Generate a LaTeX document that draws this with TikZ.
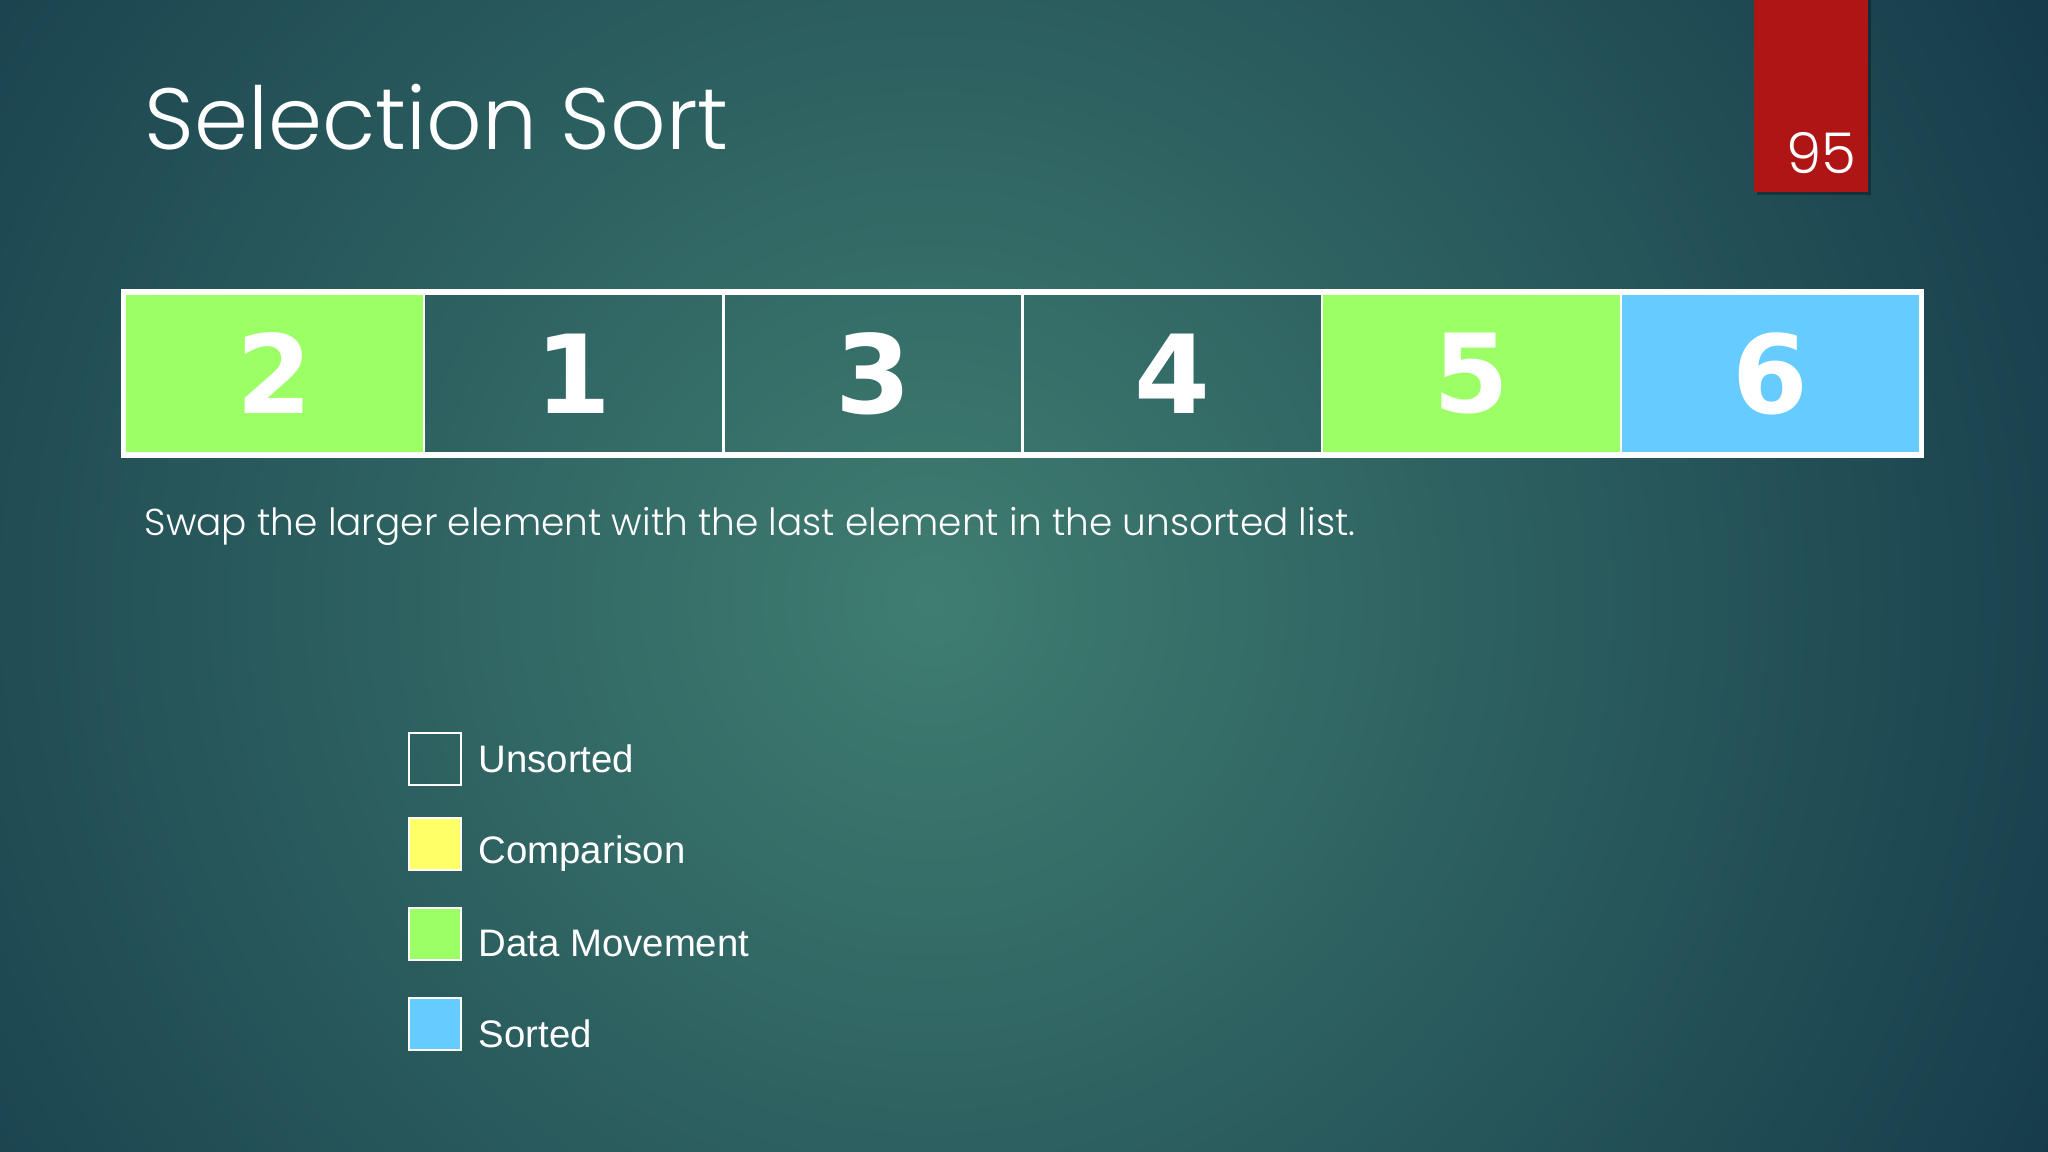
\documentclass[tikz,border=0pt]{standalone}
\usepackage{fontspec}
\setmainfont{Liberation Sans}
\newfontfamily\slidefont{Poppins Light}
\newfontfamily\digitfont{DejaVu Sans}
\usetikzlibrary{positioning}
\definecolor{bgcenter}{HTML}{3F7D71}
\definecolor{bgedge}{HTML}{163C4B}
\definecolor{slidered}{HTML}{B01515}
\definecolor{movegreen}{HTML}{9CFF66}
\definecolor{sortblue}{HTML}{66CCFF}
\definecolor{cmpyellow}{HTML}{FFFF66}
\tikzset{
  cell/.style={draw=white, line width=0.6pt, minimum width=2.992cm, minimum height=1.61cm,
    inner sep=0pt, text=white, font=\digitfont\bfseries\fontsize{31}{31}\selectfont},
  keybox/.style={draw=white, line width=0.5pt, minimum size=0.52cm, inner sep=0pt},
  keytext/.style={anchor=base west, inner sep=0pt, text=white, font=\fontsize{10.9}{12}\selectfont},
}
\begin{document}
\begin{tikzpicture}[x=0.01cm,y=-0.01cm]
\useasboundingbox (0,0) rectangle (2048,1152);
% background
\fill [bgedge] (0,0) rectangle (2048,1152);
\begin{scope}
\clip (0,0) rectangle (2048,1152);
\shade [inner color=bgcenter, outer color=bgedge] (930,600) circle (1250);
\end{scope}

% slide number tab
\fill [black, opacity=0.3] (1757,0) rectangle (1871,195);
\fill [slidered] (1754,0) rectangle (1868,192);
\node [anchor=base east, inner sep=0pt, text=white, font=\slidefont\fontsize{16}{16}\selectfont] (num) at (1857,174) {95};

% title and caption
\node [anchor=base west, inner sep=0pt, text=white, font=\slidefont\fontsize{24.7}{25}\selectfont] (title) at (144,150) {Selection Sort};
\node [anchor=base west, inner sep=0pt, text=white, font=\slidefont\fontsize{10.65}{11}\selectfont] (caption) at (144,536) {Swap the larger element with the last element in the unsorted list.};

% array
\node [cell, fill=movegreen] (c1) at (274.6,373.5) {2};
\node [cell] (c2) at (573.8,373.5) {1};
\node [cell] (c3) at (873,373.5) {3};
\node [cell] (c4) at (1172.2,373.5) {4};
\node [cell, fill=movegreen] (c5) at (1471.4,373.5) {5};
\node [cell, fill=sortblue] (c6) at (1770.6,373.5) {6};
\draw [white, line width=1.5pt] (c1.north west) rectangle (c6.south east);

% legend
\node [keybox] (kunsorted) at (435,759) {};
\node [keybox, fill=cmpyellow] (kcompare) at (435,844) {};
\node [keybox, fill=movegreen] (kmove) at (435,934) {};
\node [keybox, fill=sortblue] (ksorted) at (435,1024) {};
\node [keytext] (tunsorted) at (478,772) {Unsorted};
\node [keytext] (tcompare) at (478,863) {Comparison};
\node [keytext] (tmove) at (478,956) {Data Movement};
\node [keytext] (tsorted) at (478,1047) {Sorted};
\end{tikzpicture}
\end{document}
